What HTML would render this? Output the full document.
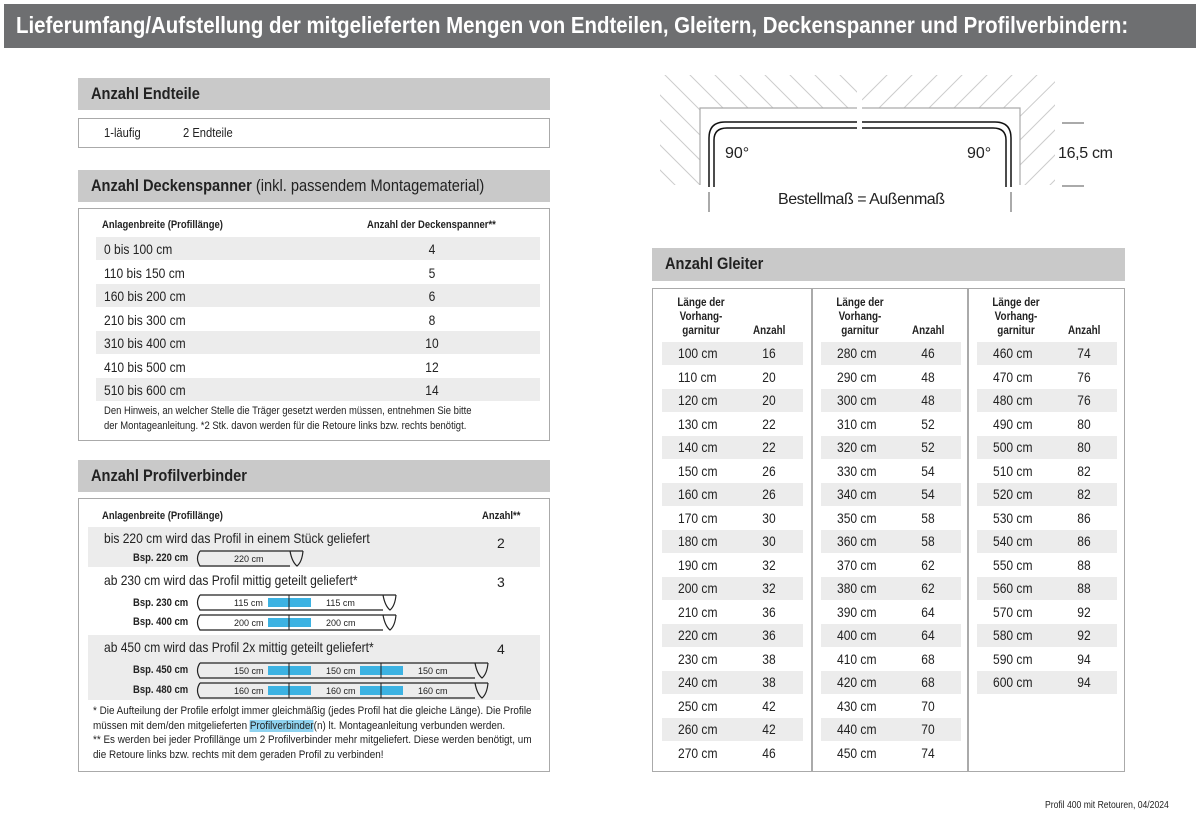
<!DOCTYPE html>
<html><head><meta charset="utf-8"><style>
body{margin:0;width:1200px;height:816px;background:#fff;position:relative;font-family:"Liberation Sans",sans-serif;color:#222;overflow:hidden}
.a{position:absolute;white-space:nowrap}
.n{transform:scaleX(.86);transform-origin:0 0}
.nc{transform:scaleX(.86);transform-origin:50% 0}
.hd{position:absolute;background:#c9c9c9;font-weight:bold;font-size:17px;line-height:32px;padding-left:13px;box-sizing:border-box;color:#222;white-space:nowrap}
.hd span.s{display:inline-block;transform:scaleX(.86);transform-origin:0 0}
.box{position:absolute;border:1.5px solid #aaa;box-sizing:border-box}
.sh{position:absolute;background:#ececec}
.t14{font-size:14px}
.b11{font-size:11px;font-weight:bold}
</style></head><body>
<div class="a" style="left:4px;top:4px;width:1192px;height:44px;background:#6e6f71"></div>
<div class="a n" style="left:16px;top:8px;font-size:23px;font-weight:bold;color:#fff;line-height:34px;transform:scaleX(.888)">Lieferumfang/Aufstellung der mitgelieferten Mengen von Endteilen, Gleitern, Deckenspanner und Profilverbindern:</div>

<div class="hd" style="left:78px;top:78px;width:472px"><span class="s">Anzahl Endteile</span></div>
<div class="box" style="left:78px;top:118px;width:472px;height:30px"></div>
<div class="a n" style="left:104px;top:125px;font-size:13px">1-läufig</div>
<div class="a n" style="left:183px;top:125px;font-size:13px">2 Endteile</div>

<div class="hd" style="left:78px;top:170px;width:472px"><span class="s">Anzahl Deckenspanner <span style="font-weight:normal">(inkl. passendem Montagematerial)</span></span></div>
<div class="box" style="left:78px;top:208px;width:472px;height:233px"></div>
<div class="a b11 n" style="left:102px;top:219px">Anlagenbreite (Profillänge)</div>
<div class="a b11 n" style="left:367px;top:219px">Anzahl der Deckenspanner**</div>
<div class="sh" style="left:96px;top:237px;width:444px;height:23px"></div>
<div class="sh" style="left:96px;top:284px;width:444px;height:23px"></div>
<div class="sh" style="left:96px;top:331px;width:444px;height:23px"></div>
<div class="sh" style="left:96px;top:378px;width:444px;height:23px"></div>
<div class="a t14 n" style="left:104px;top:238px;line-height:23.5px">0 bis 100 cm<br>110 bis 150 cm<br>160 bis 200 cm<br>210 bis 300 cm<br>310 bis 400 cm<br>410 bis 500 cm<br>510 bis 600 cm</div>
<div class="a t14 nc" style="left:420px;top:238px;width:24px;text-align:center;line-height:23.5px">4<br>5<br>6<br>8<br>10<br>12<br>14</div>
<div class="a n" style="left:104px;top:404px;font-size:11px;line-height:14.5px">Den Hinweis, an welcher Stelle die Träger gesetzt werden müssen, entnehmen Sie bitte<br>der Montageanleitung. *2 Stk. davon werden für die Retoure links bzw. rechts benötigt.</div>

<div class="hd" style="left:78px;top:460px;width:472px"><span class="s">Anzahl Profilverbinder</span></div>
<div class="box" style="left:78px;top:498px;width:472px;height:274px"></div>
<div class="a b11 n" style="left:102px;top:510px">Anlagenbreite (Profillänge)</div>
<div class="a b11 n" style="left:482px;top:510px">Anzahl**</div>
<div class="sh" style="left:88px;top:527px;width:452px;height:40px"></div>
<div class="sh" style="left:88px;top:635px;width:452px;height:65px"></div>
<div class="a t14 n" style="left:104px;top:530px">bis 220 cm wird das Profil in einem Stück geliefert</div>
<div class="a t14 n" style="left:104px;top:572px">ab 230 cm wird das Profil mittig geteilt geliefert*</div>
<div class="a t14 n" style="left:104px;top:639px">ab 450 cm wird das Profil 2x mittig geteilt geliefert*</div>
<div class="a t14" style="left:497px;top:535px">2</div>
<div class="a t14" style="left:497px;top:574px">3</div>
<div class="a t14" style="left:497px;top:641px">4</div>
<div class="a b11 n" style="left:133px;top:552px">Bsp. 220 cm</div>
<div class="a b11 n" style="left:133px;top:597px">Bsp. 230 cm</div>
<div class="a b11 n" style="left:133px;top:616px">Bsp. 400 cm</div>
<div class="a b11 n" style="left:133px;top:664px">Bsp. 450 cm</div>
<div class="a b11 n" style="left:133px;top:684px">Bsp. 480 cm</div>
<svg class="a" style="left:0;top:0" width="600" height="816" font-family="Liberation Sans, sans-serif" font-size="9">
<g fill="none" stroke="#222" stroke-width="1.2">
<path d="M200 551 Q195 558.5 200 566 L290 566 M200 551 L303 551 M290 551 Q292 562 297 566 Q302 562 303 551"/>
<path d="M200 595 Q195 602.5 200 610 L383 610 M200 595 L396 595 M383 595 Q385 606 390 610 Q395 606 396 595"/>
<path d="M200 615 Q195 622.5 200 630 L383 630 M200 615 L396 615 M383 615 Q385 626 390 630 Q395 626 396 615"/>
<path d="M200 663 Q195 670.5 200 678 L475 678 M200 663 L488 663 M475 663 Q477 674 482 678 Q487 674 488 663"/>
<path d="M200 683 Q195 690.5 200 698 L475 698 M200 683 L488 683 M475 683 Q477 694 482 698 Q487 694 488 683"/>
</g>
<g fill="#3cb2e2">
<rect x="268" y="598" width="43" height="9"/><rect x="268" y="618" width="43" height="9"/>
<rect x="268" y="666" width="43" height="9"/><rect x="360" y="666" width="43" height="9"/>
<rect x="268" y="686" width="43" height="9"/><rect x="360" y="686" width="43" height="9"/>
</g>
<g stroke="#222" stroke-width="1"><line x1="289" y1="595" x2="289" y2="610"/><line x1="289" y1="615" x2="289" y2="630"/><line x1="289" y1="663" x2="289" y2="678"/><line x1="289" y1="683" x2="289" y2="698"/><line x1="381" y1="663" x2="381" y2="678"/><line x1="381" y1="683" x2="381" y2="698"/></g>
<g fill="#222">
<text x="234" y="562">220 cm</text>
<text x="234" y="606">115 cm</text><text x="326" y="606">115 cm</text>
<text x="234" y="626">200 cm</text><text x="326" y="626">200 cm</text>
<text x="234" y="674">150 cm</text><text x="326" y="674">150 cm</text><text x="418" y="674">150 cm</text>
<text x="234" y="694">160 cm</text><text x="326" y="694">160 cm</text><text x="418" y="694">160 cm</text>
</g>
</svg>
<div class="a n" style="left:93px;top:704px;font-size:11px;line-height:14.5px;transform:scaleX(.9)">* Die Aufteilung der Profile erfolgt immer gleichmäßig (jedes Profil hat die gleiche Länge). Die Profile<br>müssen mit dem/den mitgelieferten <span style="background:#8fd3f0">Profilverbinder</span>(n) lt. Montageanleitung verbunden werden.<br>** Es werden bei jeder Profillänge um 2 Profilverbinder mehr mitgeliefert. Diese werden benötigt, um<br>die Retoure links bzw. rechts mit dem geraden Profil zu verbinden!</div>

<svg class="a" style="left:650px;top:70px" width="480" height="150" font-family="Liberation Sans, sans-serif">
<defs><clipPath id="cl"><path d="M10 5 H207 V38 H50 V115 H10 Z"/></clipPath><clipPath id="cr"><path d="M212 5 H405 V115 H370 V38 H212 Z"/></clipPath></defs>
<g clip-path="url(#cl)" stroke="#ccc" stroke-width="1" fill="none">
<path d="M-140 0 L0 140 M-115 0 L25 140 M-90 0 L50 140 M-65 0 L75 140 M-40 0 L100 140 M-15 0 L125 140 M10 0 L150 140 M35 0 L175 140 M60 0 L200 140 M85 0 L225 140 M110 0 L250 140 M135 0 L275 140 M160 0 L300 140 M185 0 L325 140"/>
</g>
<g clip-path="url(#cr)" stroke="#ccc" stroke-width="1" fill="none">
<path d="M212 30 L242 0 M212 55 L267 0 M212 80 L292 0 M212 105 L317 0 M212 130 L342 0 M212 155 L367 0 M235 155 L392 0 M260 155 L417 0 M285 155 L440 0 M310 155 L440 25 M335 155 L440 50 M360 155 L440 75"/>
</g>
<path d="M50 115 V38 H207 M212 38 H370 V115" fill="none" stroke="#aaa" stroke-width="1.2"/>
<g fill="none" stroke="#111" stroke-width="1.5">
<path d="M59 117 V68 Q59 52 75 52 H207 M212 52 H345 Q361 52 361 68 V117"/>
<path d="M64 117 V70 Q64 58 77 58 H207 M212 58 H343 Q356 58 356 70 V117"/>
</g>
<g stroke="#555"><line x1="59" y1="122" x2="59" y2="142"/><line x1="361" y1="122" x2="361" y2="142"/><line x1="412" y1="53" x2="434" y2="53"/><line x1="412" y1="116" x2="434" y2="116"/></g>
<g fill="#222" font-size="16"><text x="75" y="88">90°</text><text x="317" y="88">90°</text><text x="408" y="88" textLength="55">16,5 cm</text><text x="128" y="134" textLength="167">Bestellmaß = Außenmaß</text></g>
</svg>

<div class="hd" style="left:652px;top:248px;width:473px;height:33px"><span class="s">Anzahl Gleiter</span></div>
<div class="box" style="left:652px;top:288px;width:473px;height:484px"></div>
<div class="a" style="left:811px;top:289px;width:1.5px;height:482px;background:#aaa"></div>
<div class="a" style="left:967px;top:289px;width:1.5px;height:482px;background:#aaa"></div>
<div id="g"></div>
<script>
var cols=[[662,["100","110","120","130","140","150","160","170","180","190","200","210","220","230","240","250","260","270"],[16,20,20,22,22,26,26,30,30,32,32,36,36,38,38,42,42,46]],
[821,["280","290","300","310","320","330","340","350","360","370","380","390","400","410","420","430","440","450"],[46,48,48,52,52,54,54,58,58,62,62,64,64,68,68,70,70,74]],
[977,["460","470","480","490","500","510","520","530","540","550","560","570","580","590","600"],[74,76,76,80,80,82,82,86,86,88,88,92,92,94,94]]];
var h="";
cols.forEach(function(c){var x=c[0];
h+='<div class="a b11 nc" style="left:'+(x+4)+'px;top:296px;width:70px;line-height:14px;text-align:center;font-size:11.5px">Länge der<br>Vorhang-<br>garnitur</div>';
h+='<div class="a b11 n" style="left:'+(x+91)+'px;top:325px;font-size:11.5px">Anzahl</div>';
c[1].forEach(function(l,i){var y=353+i*23.5;
if(i%2==0)h+='<div class="sh" style="left:'+x+'px;top:'+(y-11)+'px;width:'+(x==662?141:140)+'px;height:23px"></div>';
h+='<div class="a t14 n" style="left:'+(x+16)+'px;top:'+(y-8)+'px">'+l+' cm</div><div class="a t14 nc" style="left:'+(x+92)+'px;top:'+(y-8)+'px;width:30px;text-align:center">'+c[2][i]+'</div>';});});
document.getElementById("g").innerHTML=h;
</script>
<div class="a n" style="left:1045px;top:800px;font-size:10px">Profil 400 mit Retouren, 04/2024</div>
</body></html>
